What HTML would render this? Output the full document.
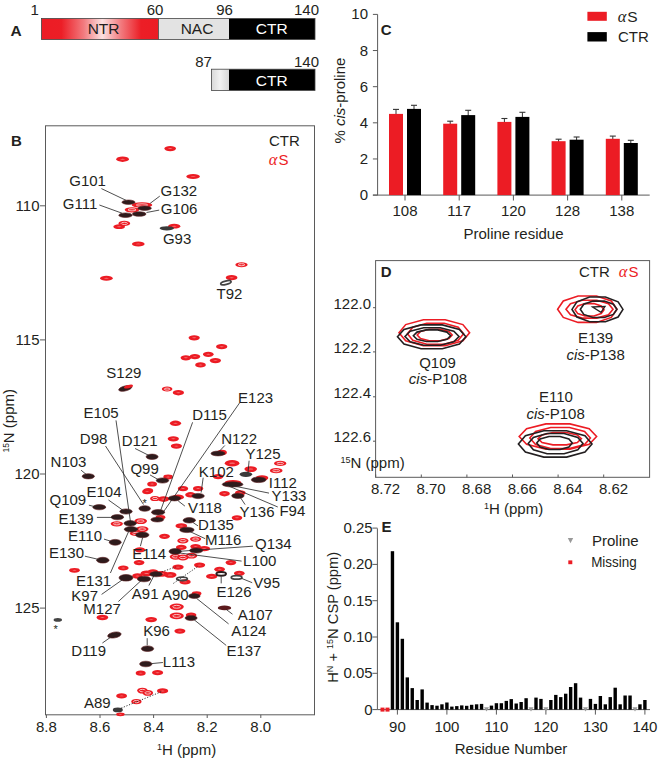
<!DOCTYPE html>
<html><head><meta charset="utf-8"><style>
html,body{margin:0;padding:0;background:#fff;}
svg{display:block;font-family:"Liberation Sans", sans-serif;}
text{stroke-width:0px;}
</style></head><body>
<svg width="658" height="761" viewBox="0 0 658 761">
<rect width="658" height="761" fill="#fff"/>
<defs><linearGradient id="ntr" x1="0" x2="1" y1="0" y2="0"><stop offset="0" stop-color="#ec1c24"/><stop offset="0.17" stop-color="#ec1e26"/><stop offset="0.36" stop-color="#f27a7e"/><stop offset="0.52" stop-color="#fbe0e0"/><stop offset="0.68" stop-color="#f27a7e"/><stop offset="0.85" stop-color="#ec1e26"/><stop offset="1" stop-color="#ec1c24"/></linearGradient><linearGradient id="nac2" x1="0" x2="1" y1="0" y2="0"><stop offset="0" stop-color="#d8d8d8"/><stop offset="0.5" stop-color="#f2f2f2"/><stop offset="1" stop-color="#d8d8d8"/></linearGradient></defs>
<text x="10.6" y="35.8" font-size="15.5" fill="#231f20" stroke="#231f20" font-weight="bold">A</text>
<rect x="41.5" y="18.5" width="117" height="21" fill="url(#ntr)"/>
<rect x="158.5" y="18.5" width="70.5" height="21" fill="#e3e3e3"/>
<rect x="229" y="18.5" width="86" height="21" fill="#000"/>
<rect x="41.5" y="18.5" width="273.5" height="21" fill="none" stroke="#444" stroke-width="0.8"/>
<line x1="158.5" y1="18.5" x2="158.5" y2="39.5" stroke="#444" stroke-width="0.8"/>
<text x="103.6" y="33.8" font-size="15.5" fill="#231f20" stroke="#231f20" text-anchor="middle">NTR</text>
<text x="197" y="34" font-size="15.5" fill="#231f20" stroke="#231f20" text-anchor="middle">NAC</text>
<text x="271.8" y="34" font-size="15.5" fill="#fff" stroke="#fff" text-anchor="middle">CTR</text>
<text x="34.7" y="14.9" font-size="15" fill="#231f20" stroke="#231f20" text-anchor="middle">1</text>
<text x="155" y="14.9" font-size="15" fill="#231f20" stroke="#231f20" text-anchor="middle">60</text>
<text x="224.6" y="14.5" font-size="15" fill="#231f20" stroke="#231f20" text-anchor="middle">96</text>
<text x="306.5" y="14.5" font-size="15" fill="#231f20" stroke="#231f20" text-anchor="middle">140</text>
<rect x="211.5" y="69.2" width="17.5" height="21.2" fill="url(#nac2)"/>
<rect x="229" y="69.2" width="86" height="21.2" fill="#000"/>
<rect x="211.5" y="69.2" width="103.5" height="21.2" fill="none" stroke="#444" stroke-width="0.8"/>
<text x="271.8" y="86" font-size="15.5" fill="#fff" stroke="#fff" text-anchor="middle">CTR</text>
<text x="203.6" y="67" font-size="15" fill="#231f20" stroke="#231f20" text-anchor="middle">87</text>
<text x="306.5" y="67" font-size="15" fill="#231f20" stroke="#231f20" text-anchor="middle">140</text>
<line x1="377.6" y1="14.4" x2="377.6" y2="195.1" stroke="#5a5a5a" stroke-width="1"/>
<line x1="372.9" y1="195.1" x2="649.7" y2="195.1" stroke="#5a5a5a" stroke-width="1"/>
<line x1="372.9" y1="195.1" x2="377.6" y2="195.1" stroke="#5a5a5a" stroke-width="1"/>
<text x="368" y="200.1" font-size="15" fill="#231f20" stroke="#231f20" text-anchor="end">0</text>
<line x1="372.9" y1="158.95999999999998" x2="377.6" y2="158.95999999999998" stroke="#5a5a5a" stroke-width="1"/>
<text x="368" y="163.95999999999998" font-size="15" fill="#231f20" stroke="#231f20" text-anchor="end">2</text>
<line x1="372.9" y1="122.82" x2="377.6" y2="122.82" stroke="#5a5a5a" stroke-width="1"/>
<text x="368" y="127.82" font-size="15" fill="#231f20" stroke="#231f20" text-anchor="end">4</text>
<line x1="372.9" y1="86.67999999999999" x2="377.6" y2="86.67999999999999" stroke="#5a5a5a" stroke-width="1"/>
<text x="368" y="91.67999999999999" font-size="15" fill="#231f20" stroke="#231f20" text-anchor="end">6</text>
<line x1="372.9" y1="50.53999999999999" x2="377.6" y2="50.53999999999999" stroke="#5a5a5a" stroke-width="1"/>
<text x="368" y="55.53999999999999" font-size="15" fill="#231f20" stroke="#231f20" text-anchor="end">8</text>
<line x1="372.9" y1="14.400000000000006" x2="377.6" y2="14.400000000000006" stroke="#5a5a5a" stroke-width="1"/>
<text x="368" y="19.400000000000006" font-size="15" fill="#231f20" stroke="#231f20" text-anchor="end">10</text>
<text x="380.8" y="35.3" font-size="15" fill="#231f20" stroke="#231f20" font-weight="bold">C</text>
<line x1="396.0" y1="109.4" x2="396.0" y2="114.9" stroke="#333" stroke-width="1"/>
<line x1="393.0" y1="109.4" x2="399.0" y2="109.4" stroke="#333" stroke-width="1.1"/>
<line x1="414.0" y1="105.3" x2="414.0" y2="109.9" stroke="#333" stroke-width="1"/>
<line x1="411.0" y1="105.3" x2="417.0" y2="105.3" stroke="#333" stroke-width="1.1"/>
<rect x="389.0" y="113.9" width="14" height="81.19999999999999" fill="#ec1c24"/>
<rect x="407.0" y="108.9" width="14" height="86.19999999999999" fill="#000"/>
<line x1="405.0" y1="195.1" x2="405.0" y2="200.5" stroke="#5a5a5a" stroke-width="1"/>
<text x="405.0" y="216" font-size="15" fill="#231f20" stroke="#231f20" text-anchor="middle">108</text>
<line x1="450.2" y1="121.2" x2="450.2" y2="124.7" stroke="#333" stroke-width="1"/>
<line x1="447.2" y1="121.2" x2="453.2" y2="121.2" stroke="#333" stroke-width="1.1"/>
<line x1="468.2" y1="110.3" x2="468.2" y2="116.1" stroke="#333" stroke-width="1"/>
<line x1="465.2" y1="110.3" x2="471.2" y2="110.3" stroke="#333" stroke-width="1.1"/>
<rect x="443.2" y="123.7" width="14" height="71.39999999999999" fill="#ec1c24"/>
<rect x="461.2" y="115.1" width="14" height="80.0" fill="#000"/>
<line x1="459.2" y1="195.1" x2="459.2" y2="200.5" stroke="#5a5a5a" stroke-width="1"/>
<text x="459.2" y="216" font-size="15" fill="#231f20" stroke="#231f20" text-anchor="middle">117</text>
<line x1="504.4" y1="118.5" x2="504.4" y2="122.9" stroke="#333" stroke-width="1"/>
<line x1="501.4" y1="118.5" x2="507.4" y2="118.5" stroke="#333" stroke-width="1.1"/>
<line x1="522.4" y1="112.3" x2="522.4" y2="117.9" stroke="#333" stroke-width="1"/>
<line x1="519.4" y1="112.3" x2="525.4" y2="112.3" stroke="#333" stroke-width="1.1"/>
<rect x="497.4" y="121.9" width="14" height="73.19999999999999" fill="#ec1c24"/>
<rect x="515.4" y="116.9" width="14" height="78.19999999999999" fill="#000"/>
<line x1="513.4" y1="195.1" x2="513.4" y2="200.5" stroke="#5a5a5a" stroke-width="1"/>
<text x="513.4" y="216" font-size="15" fill="#231f20" stroke="#231f20" text-anchor="middle">120</text>
<line x1="558.6" y1="139.2" x2="558.6" y2="142.2" stroke="#333" stroke-width="1"/>
<line x1="555.6" y1="139.2" x2="561.6" y2="139.2" stroke="#333" stroke-width="1.1"/>
<line x1="576.6" y1="137.0" x2="576.6" y2="140.7" stroke="#333" stroke-width="1"/>
<line x1="573.6" y1="137.0" x2="579.6" y2="137.0" stroke="#333" stroke-width="1.1"/>
<rect x="551.6" y="141.2" width="14" height="53.900000000000006" fill="#ec1c24"/>
<rect x="569.6" y="139.7" width="14" height="55.400000000000006" fill="#000"/>
<line x1="567.6" y1="195.1" x2="567.6" y2="200.5" stroke="#5a5a5a" stroke-width="1"/>
<text x="567.6" y="216" font-size="15" fill="#231f20" stroke="#231f20" text-anchor="middle">128</text>
<line x1="612.8" y1="136.1" x2="612.8" y2="139.8" stroke="#333" stroke-width="1"/>
<line x1="609.8" y1="136.1" x2="615.8" y2="136.1" stroke="#333" stroke-width="1.1"/>
<line x1="630.8" y1="140.3" x2="630.8" y2="144.0" stroke="#333" stroke-width="1"/>
<line x1="627.8" y1="140.3" x2="633.8" y2="140.3" stroke="#333" stroke-width="1.1"/>
<rect x="605.8" y="138.8" width="14" height="56.29999999999998" fill="#ec1c24"/>
<rect x="623.8" y="143.0" width="14" height="52.099999999999994" fill="#000"/>
<line x1="621.8" y1="195.1" x2="621.8" y2="200.5" stroke="#5a5a5a" stroke-width="1"/>
<text x="621.8" y="216" font-size="15" fill="#231f20" stroke="#231f20" text-anchor="middle">138</text>
<text x="513.5" y="239" font-size="15" fill="#231f20" stroke="#231f20" text-anchor="middle">Proline residue</text>
<text transform="translate(345.1,100.6) rotate(-90)" font-size="15" fill="#231f20" stroke="#231f20" text-anchor="middle">% <tspan font-style="italic">cis</tspan>-proline</text>
<rect x="587.4" y="11.8" width="19.4" height="9" fill="#ec1c24"/>
<rect x="587.4" y="32.1" width="19.4" height="9.4" fill="#000"/>
<text x="617.8" y="22" font-size="16.5" fill="#231f20" stroke="#231f20" style="font-family:'Liberation Serif',serif;font-style:italic">α</text>
<text x="627.2" y="22" font-size="15.5" fill="#231f20" stroke="#231f20">S</text>
<text x="618" y="41.7" font-size="15" fill="#231f20" stroke="#231f20">CTR</text>
<rect x="375.6" y="260.6" width="274" height="216.7" fill="none" stroke="#5a5a5a" stroke-width="1"/>
<text x="380.8" y="276.6" font-size="15" fill="#231f20" stroke="#231f20" font-weight="bold">D</text>
<text x="579" y="276.5" font-size="15" fill="#231f20" stroke="#231f20">CTR</text>
<text x="618.8" y="276.6" font-size="16.5" fill="#ec1c24" stroke="#ec1c24" style="font-family:'Liberation Serif',serif;font-style:italic">α</text>
<text x="628.5" y="276.6" font-size="15" fill="#ec1c24" stroke="#ec1c24">S</text>
<text x="371" y="308.7" font-size="15" fill="#231f20" stroke="#231f20" text-anchor="end">122.0</text>
<line x1="373" y1="307.7" x2="375.6" y2="307.7" stroke="#5a5a5a" stroke-width="1"/>
<text x="371" y="352.9" font-size="15" fill="#231f20" stroke="#231f20" text-anchor="end">122.2</text>
<line x1="373" y1="351.9" x2="375.6" y2="351.9" stroke="#5a5a5a" stroke-width="1"/>
<text x="371" y="397.8" font-size="15" fill="#231f20" stroke="#231f20" text-anchor="end">122.4</text>
<line x1="373" y1="396.8" x2="375.6" y2="396.8" stroke="#5a5a5a" stroke-width="1"/>
<text x="371" y="442.2" font-size="15" fill="#231f20" stroke="#231f20" text-anchor="end">122.6</text>
<line x1="373" y1="441.2" x2="375.6" y2="441.2" stroke="#5a5a5a" stroke-width="1"/>
<text x="340.5" y="468" font-size="15" fill="#231f20" stroke="#231f20"><tspan font-size="9" dy="-5">15</tspan><tspan dy="5">N (ppm)</tspan></text>
<line x1="375.7" y1="477.3" x2="375.7" y2="474.5" stroke="#5a5a5a" stroke-width="1"/>
<text x="385.5" y="493.5" font-size="15" fill="#231f20" stroke="#231f20" text-anchor="middle">8.72</text>
<line x1="421.3" y1="477.3" x2="421.3" y2="474.5" stroke="#5a5a5a" stroke-width="1"/>
<text x="431.1" y="493.5" font-size="15" fill="#231f20" stroke="#231f20" text-anchor="middle">8.70</text>
<line x1="466.9" y1="477.3" x2="466.9" y2="474.5" stroke="#5a5a5a" stroke-width="1"/>
<text x="476.7" y="493.5" font-size="15" fill="#231f20" stroke="#231f20" text-anchor="middle">8.68</text>
<line x1="512.5" y1="477.3" x2="512.5" y2="474.5" stroke="#5a5a5a" stroke-width="1"/>
<text x="522.3" y="493.5" font-size="15" fill="#231f20" stroke="#231f20" text-anchor="middle">8.66</text>
<line x1="558.1" y1="477.3" x2="558.1" y2="474.5" stroke="#5a5a5a" stroke-width="1"/>
<text x="567.9" y="493.5" font-size="15" fill="#231f20" stroke="#231f20" text-anchor="middle">8.64</text>
<line x1="603.7" y1="477.3" x2="603.7" y2="474.5" stroke="#5a5a5a" stroke-width="1"/>
<text x="613.5" y="493.5" font-size="15" fill="#231f20" stroke="#231f20" text-anchor="middle">8.62</text>
<text x="484" y="514" font-size="15" fill="#231f20" stroke="#231f20"><tspan font-size="9" dy="-5">1</tspan><tspan dy="5">H (ppm)</tspan></text>
<polygon points="469.6,332.7 462.9,340.8 445.2,345.7 423.4,345.7 405.7,340.8 399.0,332.7 405.7,324.6 423.4,319.7 445.2,319.7 462.9,324.6" fill="none" stroke="#ec1c24" stroke-width="1.6"/>
<polygon points="463.6,333.8 458.2,340.3 444.2,344.3 426.8,344.3 412.8,340.3 407.4,333.8 412.8,327.3 426.8,323.3 444.2,323.3 458.2,327.3" fill="none" stroke="#ec1c24" stroke-width="1.6"/>
<polygon points="452.2,335.0 448.9,338.6 440.1,340.8 429.3,340.8 420.5,338.6 417.2,335.0 420.5,331.4 429.3,329.2 440.1,329.2 448.9,331.4" fill="none" stroke="#ec1c24" stroke-width="1.6"/>
<polygon points="465.9,336.8 459.4,344.1 442.3,348.7 421.1,348.7 404.0,344.1 397.5,336.8 404.0,329.5 421.1,324.9 442.3,324.9 459.4,329.5" fill="none" stroke="#231f20" stroke-width="1.6"/>
<polygon points="459.0,336.5 453.8,341.8 440.3,345.2 423.7,345.2 410.2,341.8 405.0,336.5 410.2,331.2 423.7,327.8 440.3,327.8 453.8,331.2" fill="none" stroke="#231f20" stroke-width="1.6"/>
<polygon points="450.6,335.7 447.0,339.3 437.7,341.5 426.3,341.5 417.0,339.3 413.4,335.7 417.0,332.1 426.3,329.9 437.7,329.9 447.0,332.1" fill="none" stroke="#231f20" stroke-width="1.6"/>
<text x="437.5" y="367.6" font-size="15" fill="#231f20" stroke="#231f20" text-anchor="middle">Q109</text>
<text x="438" y="384" font-size="15" fill="#231f20" stroke="#231f20" text-anchor="middle"><tspan font-style="italic">cis</tspan>-P108</text>
<polygon points="617.0,309.2 611.3,317.4 596.5,322.4 578.1,322.4 563.3,317.4 557.6,309.2 563.3,301.0 578.1,296.0 596.5,296.0 611.3,301.0" fill="none" stroke="#ec1c24" stroke-width="1.6"/>
<polygon points="613.0,309.2 608.5,314.7 596.8,318.1 582.2,318.1 570.5,314.7 566.0,309.2 570.5,303.7 582.2,300.3 596.8,300.3 608.5,303.7" fill="none" stroke="#ec1c24" stroke-width="1.6"/>
<polygon points="604.0,309.8 601.2,313.6 594.0,316.0 585.0,316.0 577.8,313.6 575.0,309.8 577.8,306.0 585.0,303.6 594.0,303.6 601.2,306.0" fill="none" stroke="#ec1c24" stroke-width="1.6"/>
<polygon points="623.0,309.4 618.1,317.0 605.4,321.8 589.6,321.8 576.9,317.0 572.0,309.4 576.9,301.8 589.6,297.0 605.4,297.0 618.1,301.8" fill="none" stroke="#231f20" stroke-width="1.6"/>
<polygon points="616.9,309.3 613.4,314.4 604.3,317.5 592.9,317.5 583.8,314.4 580.3,309.3 583.8,304.2 592.9,301.1 604.3,301.1 613.4,304.2" fill="none" stroke="#231f20" stroke-width="1.6"/>
<polygon points="592.6,307 605,306.4 601,312.4" fill="none" stroke="#231f20" stroke-width="1.3"/>
<text x="595.6" y="342.8" font-size="15" fill="#231f20" stroke="#231f20" text-anchor="middle">E139</text>
<text x="595.6" y="359.5" font-size="15" fill="#231f20" stroke="#231f20" text-anchor="middle"><tspan font-style="italic">cis</tspan>-P138</text>
<polygon points="596.6,436.5 589.2,444.3 569.9,449.1 545.9,449.1 526.6,444.3 519.2,436.5 526.6,428.7 545.9,423.9 569.9,423.9 589.2,428.7" fill="none" stroke="#ec1c24" stroke-width="1.6"/>
<polygon points="590.4,438.0 584.6,444.5 569.5,448.5 550.7,448.5 535.6,444.5 529.8,438.0 535.6,431.5 550.7,427.5 569.5,427.5 584.6,431.5" fill="none" stroke="#ec1c24" stroke-width="1.6"/>
<polygon points="581.4,438.7 577.3,442.5 566.4,444.9 553.0,444.9 542.1,442.5 538.0,438.7 542.1,434.9 553.0,432.5 566.4,432.5 577.3,434.9" fill="none" stroke="#ec1c24" stroke-width="1.6"/>
<polygon points="592.0,443.9 585.0,452.1 566.6,457.1 543.8,457.1 525.4,452.1 518.4,443.9 525.4,435.7 543.8,430.7 566.6,430.7 585.0,435.7" fill="none" stroke="#231f20" stroke-width="1.6"/>
<polygon points="583.0,443.6 577.8,449.8 564.1,453.7 547.1,453.7 533.4,449.8 528.2,443.6 533.4,437.4 547.1,433.5 564.1,433.5 577.8,437.4" fill="none" stroke="#231f20" stroke-width="1.6"/>
<polygon points="572.3,443.0 568.9,447.0 560.0,449.5 549.0,449.5 540.1,447.0 536.7,443.0 540.1,439.0 549.0,436.5 560.0,436.5 568.9,439.0" fill="none" stroke="#231f20" stroke-width="1.6"/>
<text x="556" y="401.9" font-size="15" fill="#231f20" stroke="#231f20" text-anchor="middle">E110</text>
<text x="555.6" y="418.6" font-size="15" fill="#231f20" stroke="#231f20" text-anchor="middle"><tspan font-style="italic">cis</tspan>-P108</text>
<line x1="377.4" y1="528.4" x2="377.4" y2="709.6" stroke="#5a5a5a" stroke-width="1"/>
<line x1="377.4" y1="709.6" x2="650" y2="709.6" stroke="#5a5a5a" stroke-width="1"/>
<line x1="372.4" y1="709.6" x2="377.4" y2="709.6" stroke="#5a5a5a" stroke-width="1"/>
<text x="372.6" y="714.6" font-size="15" fill="#231f20" stroke="#231f20" text-anchor="end">0</text>
<line x1="372.4" y1="673.3000000000001" x2="377.4" y2="673.3000000000001" stroke="#5a5a5a" stroke-width="1"/>
<text x="372.6" y="678.3000000000001" font-size="15" fill="#231f20" stroke="#231f20" text-anchor="end">0.05</text>
<line x1="372.4" y1="637.0" x2="377.4" y2="637.0" stroke="#5a5a5a" stroke-width="1"/>
<text x="372.6" y="642.0" font-size="15" fill="#231f20" stroke="#231f20" text-anchor="end">0.10</text>
<line x1="372.4" y1="600.7" x2="377.4" y2="600.7" stroke="#5a5a5a" stroke-width="1"/>
<text x="372.6" y="605.7" font-size="15" fill="#231f20" stroke="#231f20" text-anchor="end">0.15</text>
<line x1="372.4" y1="564.4000000000001" x2="377.4" y2="564.4000000000001" stroke="#5a5a5a" stroke-width="1"/>
<text x="372.6" y="569.4000000000001" font-size="15" fill="#231f20" stroke="#231f20" text-anchor="end">0.20</text>
<line x1="372.4" y1="528.1" x2="377.4" y2="528.1" stroke="#5a5a5a" stroke-width="1"/>
<text x="372.6" y="533.1" font-size="15" fill="#231f20" stroke="#231f20" text-anchor="end">0.25</text>
<text x="381.4" y="531.8" font-size="15" fill="#231f20" stroke="#231f20" font-weight="bold">E</text>
<line x1="397.4" y1="709.6" x2="397.4" y2="714.6" stroke="#5a5a5a" stroke-width="1"/>
<text x="397.4" y="732" font-size="15" fill="#231f20" stroke="#231f20" text-anchor="middle">90</text>
<line x1="446.9" y1="709.6" x2="446.9" y2="714.6" stroke="#5a5a5a" stroke-width="1"/>
<text x="446.9" y="732" font-size="15" fill="#231f20" stroke="#231f20" text-anchor="middle">100</text>
<line x1="496.4" y1="709.6" x2="496.4" y2="714.6" stroke="#5a5a5a" stroke-width="1"/>
<text x="496.4" y="732" font-size="15" fill="#231f20" stroke="#231f20" text-anchor="middle">110</text>
<line x1="545.9" y1="709.6" x2="545.9" y2="714.6" stroke="#5a5a5a" stroke-width="1"/>
<text x="545.9" y="732" font-size="15" fill="#231f20" stroke="#231f20" text-anchor="middle">120</text>
<line x1="595.4" y1="709.6" x2="595.4" y2="714.6" stroke="#5a5a5a" stroke-width="1"/>
<text x="595.4" y="732" font-size="15" fill="#231f20" stroke="#231f20" text-anchor="middle">130</text>
<line x1="644.9" y1="709.6" x2="644.9" y2="714.6" stroke="#5a5a5a" stroke-width="1"/>
<text x="644.9" y="732" font-size="15" fill="#231f20" stroke="#231f20" text-anchor="middle">140</text>
<rect x="390.75" y="551.2" width="3.4" height="158.4" fill="#000"/>
<rect x="395.7" y="622.3" width="3.4" height="87.3" fill="#000"/>
<rect x="400.65" y="638.8" width="3.4" height="70.8" fill="#000"/>
<rect x="405.6" y="677.4" width="3.4" height="32.2" fill="#000"/>
<rect x="410.55" y="688.1" width="3.4" height="21.5" fill="#000"/>
<rect x="415.5" y="700" width="3.4" height="9.6" fill="#000"/>
<rect x="420.45" y="689.4" width="3.4" height="20.2" fill="#000"/>
<rect x="425.4" y="702.6" width="3.4" height="7.0" fill="#000"/>
<rect x="430.35" y="705.1" width="3.4" height="4.5" fill="#000"/>
<rect x="435.3" y="705.7" width="3.4" height="3.9" fill="#000"/>
<rect x="440.25" y="704.3" width="3.4" height="5.3" fill="#000"/>
<rect x="445.2" y="702.5" width="3.4" height="7.1" fill="#000"/>
<rect x="450.15" y="706.6" width="3.4" height="3.0" fill="#000"/>
<rect x="455.1" y="706.1" width="3.4" height="3.5" fill="#000"/>
<rect x="460.05" y="705.4" width="3.4" height="4.2" fill="#000"/>
<rect x="465.0" y="705.8" width="3.4" height="3.8" fill="#000"/>
<rect x="469.95" y="704.8" width="3.4" height="4.8" fill="#000"/>
<rect x="474.9" y="704.3" width="3.4" height="5.3" fill="#000"/>
<rect x="479.85" y="703.9" width="3.4" height="5.7" fill="#000"/>
<rect x="489.75" y="705.6" width="3.4" height="4.0" fill="#000"/>
<rect x="494.7" y="703.2" width="3.4" height="6.4" fill="#000"/>
<rect x="499.65" y="703.2" width="3.4" height="6.4" fill="#000"/>
<rect x="504.6" y="700.9" width="3.4" height="8.7" fill="#000"/>
<rect x="509.55" y="699.1" width="3.4" height="10.5" fill="#000"/>
<rect x="514.5" y="703.5" width="3.4" height="6.1" fill="#000"/>
<rect x="519.45" y="702" width="3.4" height="7.6" fill="#000"/>
<rect x="524.4" y="698.2" width="3.4" height="11.4" fill="#000"/>
<rect x="534.3" y="697.6" width="3.4" height="12.0" fill="#000"/>
<rect x="539.25" y="698.9" width="3.4" height="10.7" fill="#000"/>
<rect x="549.15" y="700" width="3.4" height="9.6" fill="#000"/>
<rect x="554.1" y="694.9" width="3.4" height="14.7" fill="#000"/>
<rect x="559.05" y="697.1" width="3.4" height="12.5" fill="#000"/>
<rect x="564.0" y="693.7" width="3.4" height="15.9" fill="#000"/>
<rect x="568.95" y="687" width="3.4" height="22.6" fill="#000"/>
<rect x="573.9" y="683.2" width="3.4" height="26.4" fill="#000"/>
<rect x="578.85" y="697.6" width="3.4" height="12.0" fill="#000"/>
<rect x="588.75" y="698.9" width="3.4" height="10.7" fill="#000"/>
<rect x="593.7" y="703.9" width="3.4" height="5.7" fill="#000"/>
<rect x="598.65" y="696" width="3.4" height="13.6" fill="#000"/>
<rect x="603.6" y="704.3" width="3.4" height="5.3" fill="#000"/>
<rect x="608.55" y="697.1" width="3.4" height="12.5" fill="#000"/>
<rect x="613.5" y="687.7" width="3.4" height="21.9" fill="#000"/>
<rect x="618.45" y="704.3" width="3.4" height="5.3" fill="#000"/>
<rect x="623.4" y="695.5" width="3.4" height="14.1" fill="#000"/>
<rect x="628.35" y="695.5" width="3.4" height="14.1" fill="#000"/>
<rect x="638.25" y="704.3" width="3.4" height="5.3" fill="#000"/>
<rect x="643.2" y="700" width="3.4" height="9.6" fill="#000"/>
<polygon points="484.0,707.3 489.0,707.3 486.5,711.5" fill="#999"/>
<polygon points="528.5,707.3 533.5,707.3 531.0,711.5" fill="#999"/>
<polygon points="543.4,707.3 548.4,707.3 545.9,711.5" fill="#999"/>
<polygon points="583.0,707.3 588.0,707.3 585.5,711.5" fill="#999"/>
<polygon points="632.5,707.3 637.5,707.3 635.0,711.5" fill="#999"/>
<rect x="380.5" y="707.6" width="4" height="4" fill="#ec1c24"/>
<rect x="385.5" y="707.6" width="4" height="4" fill="#ec1c24"/>
<polygon points="567.8,538 573.2,538 570.5,543.3" fill="#999"/>
<rect x="568.3" y="560.4" width="4" height="3.8" fill="#ec1c24"/>
<text x="592" y="545.6" font-size="15" fill="#231f20" stroke="#231f20">Proline</text>
<text x="591.2" y="566.6" font-size="15" fill="#231f20" stroke="#231f20" textLength="45.5" lengthAdjust="spacingAndGlyphs">Missing</text>
<text x="511" y="754.4" font-size="15" fill="#231f20" stroke="#231f20" text-anchor="middle">Residue Number</text>
<text transform="translate(338.2,617.3) rotate(-90)" font-size="14.7" fill="#231f20" stroke="#231f20" text-anchor="middle">H<tspan font-size="9" dy="-5">N</tspan><tspan dy="5"> + </tspan><tspan font-size="9" dy="-5">15</tspan><tspan dy="5">N CSP (ppm)</tspan></text>
<rect x="45.5" y="125.8" width="269" height="589" fill="none" stroke="#5a5a5a" stroke-width="1"/>
<text x="11" y="145.6" font-size="15" fill="#231f20" stroke="#231f20" font-weight="bold">B</text>
<text x="269" y="145.6" font-size="15" fill="#231f20" stroke="#231f20">CTR</text>
<text x="268.8" y="164.6" font-size="16.5" fill="#ec1c24" stroke="#ec1c24" style="font-family:'Liberation Serif',serif;font-style:italic">α</text>
<text x="278.5" y="164.6" font-size="15" fill="#ec1c24" stroke="#ec1c24">S</text>
<line x1="40" y1="205.8" x2="45.5" y2="205.8" stroke="#5a5a5a" stroke-width="1"/>
<text x="39.5" y="210.8" font-size="15" fill="#231f20" stroke="#231f20" text-anchor="end">110</text>
<line x1="40" y1="339.9" x2="45.5" y2="339.9" stroke="#5a5a5a" stroke-width="1"/>
<text x="39.5" y="344.9" font-size="15" fill="#231f20" stroke="#231f20" text-anchor="end">115</text>
<line x1="40" y1="474.0" x2="45.5" y2="474.0" stroke="#5a5a5a" stroke-width="1"/>
<text x="39.5" y="479.0" font-size="15" fill="#231f20" stroke="#231f20" text-anchor="end">120</text>
<line x1="40" y1="608.1" x2="45.5" y2="608.1" stroke="#5a5a5a" stroke-width="1"/>
<text x="39.5" y="613.1" font-size="15" fill="#231f20" stroke="#231f20" text-anchor="end">125</text>
<line x1="46.4" y1="714.8" x2="46.4" y2="718" stroke="#5a5a5a" stroke-width="1"/>
<text x="46.4" y="732" font-size="15" fill="#231f20" stroke="#231f20" text-anchor="middle">8.8</text>
<line x1="100.0" y1="714.8" x2="100.0" y2="718" stroke="#5a5a5a" stroke-width="1"/>
<text x="100.0" y="732" font-size="15" fill="#231f20" stroke="#231f20" text-anchor="middle">8.6</text>
<line x1="153.6" y1="714.8" x2="153.6" y2="718" stroke="#5a5a5a" stroke-width="1"/>
<text x="153.6" y="732" font-size="15" fill="#231f20" stroke="#231f20" text-anchor="middle">8.4</text>
<line x1="207.20000000000002" y1="714.8" x2="207.20000000000002" y2="718" stroke="#5a5a5a" stroke-width="1"/>
<text x="207.20000000000002" y="732" font-size="15" fill="#231f20" stroke="#231f20" text-anchor="middle">8.2</text>
<line x1="260.8" y1="714.8" x2="260.8" y2="718" stroke="#5a5a5a" stroke-width="1"/>
<text x="260.8" y="732" font-size="15" fill="#231f20" stroke="#231f20" text-anchor="middle">8.0</text>
<text x="157" y="755" font-size="15" fill="#231f20" stroke="#231f20"><tspan font-size="9" dy="-5">1</tspan><tspan dy="5">H (ppm)</tspan></text>
<text transform="translate(14.4,452.6) rotate(-90)" font-size="15" fill="#231f20" stroke="#231f20"><tspan font-size="8.5" dy="-5">15</tspan><tspan dy="5">N (ppm)</tspan></text>
<g>
<ellipse cx="170.2" cy="148.6" rx="5.8" ry="2.6999999999999997" fill="#ec1c24"/>
<ellipse cx="170.2" cy="148.6" rx="2.32" ry="0.49" fill="#f47c7c"/>
<ellipse cx="122.6" cy="159.2" rx="6.3" ry="2.6999999999999997" fill="#ec1c24"/>
<ellipse cx="122.6" cy="159.2" rx="2.52" ry="0.49" fill="#f47c7c"/>
<ellipse cx="193.1" cy="176.4" rx="6.7" ry="2.5" fill="#ec1c24"/>
<ellipse cx="193.1" cy="176.4" rx="2.68" ry="0.45" fill="#f47c7c"/>
<ellipse cx="142" cy="205" rx="10.3" ry="2.8" fill="#ec1c24"/>
<ellipse cx="142" cy="205" rx="5.67" ry="1.18" fill="none" stroke="#fbd0d0" stroke-width="0.9"/>
<ellipse cx="132" cy="209.8" rx="7.3" ry="2.6" fill="#ec1c24"/>
<ellipse cx="132" cy="209.8" rx="4.02" ry="1.09" fill="none" stroke="#fbd0d0" stroke-width="0.9"/>
<ellipse cx="124.3" cy="223.4" rx="5.8" ry="2.6999999999999997" fill="#ec1c24"/>
<ellipse cx="124.3" cy="223.4" rx="3.19" ry="1.13" fill="none" stroke="#fbd0d0" stroke-width="0.9"/>
<ellipse cx="119.2" cy="226.7" rx="5.8" ry="2.4" fill="#ec1c24"/>
<ellipse cx="119.2" cy="226.7" rx="2.32" ry="0.43" fill="#f47c7c"/>
<ellipse cx="174.2" cy="226.2" rx="6.1" ry="2.4" fill="#ec1c24"/>
<ellipse cx="174.2" cy="226.2" rx="2.44" ry="0.43" fill="#f47c7c"/>
<ellipse cx="138.3" cy="243.9" rx="6.3" ry="2.5" fill="#ec1c24"/>
<ellipse cx="138.3" cy="243.9" rx="2.52" ry="0.45" fill="#f47c7c"/>
<ellipse cx="106.4" cy="278.3" rx="6.3" ry="2.5" fill="#ec1c24"/>
<ellipse cx="106.4" cy="278.3" rx="2.52" ry="0.45" fill="#f47c7c"/>
<ellipse cx="241.5" cy="264.7" rx="6.1" ry="2.5" fill="#ec1c24"/>
<ellipse cx="241.5" cy="264.7" rx="3.35" ry="1.05" fill="none" stroke="#fbd0d0" stroke-width="0.9"/>
<ellipse cx="231.6" cy="277.7" rx="5.8" ry="2.6" fill="#ec1c24"/>
<ellipse cx="231.6" cy="277.7" rx="2.32" ry="0.47" fill="#f47c7c"/>
<ellipse cx="194.2" cy="337.8" rx="5.6" ry="2.6" fill="#ec1c24"/>
<ellipse cx="194.2" cy="337.8" rx="2.24" ry="0.47" fill="#f47c7c"/>
<ellipse cx="221.7" cy="346.7" rx="5.6" ry="2.6" fill="#ec1c24"/>
<ellipse cx="221.7" cy="346.7" rx="2.24" ry="0.47" fill="#f47c7c"/>
<ellipse cx="208.3" cy="354.3" rx="5.3" ry="2.6" fill="#ec1c24"/>
<ellipse cx="208.3" cy="354.3" rx="2.12" ry="0.47" fill="#f47c7c"/>
<ellipse cx="185.9" cy="357.8" rx="5.3" ry="2.6" fill="#ec1c24"/>
<ellipse cx="185.9" cy="357.8" rx="2.12" ry="0.47" fill="#f47c7c"/>
<ellipse cx="194.9" cy="356.6" rx="5.3" ry="2.6" fill="#ec1c24"/>
<ellipse cx="194.9" cy="356.6" rx="2.12" ry="0.47" fill="#f47c7c"/>
<ellipse cx="215.4" cy="360.6" rx="5.6" ry="2.6" fill="#ec1c24"/>
<ellipse cx="215.4" cy="360.6" rx="2.24" ry="0.47" fill="#f47c7c"/>
<ellipse cx="200.5" cy="364.9" rx="5.3" ry="2.6999999999999997" fill="#ec1c24"/>
<ellipse cx="200.5" cy="364.9" rx="2.12" ry="0.49" fill="#f47c7c"/>
<ellipse cx="167.1" cy="389.1" rx="5.3" ry="2.5" fill="#ec1c24"/>
<ellipse cx="167.1" cy="389.1" rx="2.92" ry="1.05" fill="none" stroke="#fbd0d0" stroke-width="0.9"/>
<ellipse cx="178.4" cy="392.7" rx="5.6" ry="2.6999999999999997" fill="#ec1c24"/>
<ellipse cx="178.4" cy="392.7" rx="2.24" ry="0.49" fill="#f47c7c"/>
<ellipse cx="175.5" cy="423.3" rx="5.6" ry="2.6999999999999997" fill="#ec1c24"/>
<ellipse cx="175.5" cy="423.3" rx="2.24" ry="0.49" fill="#f47c7c"/>
<ellipse cx="173.3" cy="438.8" rx="5.6" ry="2.6" fill="#ec1c24"/>
<ellipse cx="173.3" cy="438.8" rx="2.24" ry="0.47" fill="#f47c7c"/>
<ellipse cx="176.4" cy="446.1" rx="5.6" ry="2.6" fill="#ec1c24"/>
<ellipse cx="176.4" cy="446.1" rx="2.24" ry="0.47" fill="#f47c7c"/>
<ellipse cx="222" cy="452.4" rx="4.8" ry="2.6" fill="#ec1c24"/>
<ellipse cx="222" cy="452.4" rx="1.92" ry="0.47" fill="#f47c7c"/>
<ellipse cx="232.1" cy="463.2" rx="7.3" ry="3.1999999999999997" fill="#ec1c24"/>
<ellipse cx="232.1" cy="463.2" rx="2.92" ry="0.58" fill="#f47c7c"/>
<ellipse cx="280.2" cy="463.4" rx="6.1" ry="2.6" fill="#ec1c24"/>
<ellipse cx="280.2" cy="463.4" rx="3.35" ry="1.09" fill="none" stroke="#fbd0d0" stroke-width="0.9"/>
<ellipse cx="276.2" cy="470.7" rx="6.3" ry="2.6" fill="#ec1c24"/>
<ellipse cx="276.2" cy="470.7" rx="3.47" ry="1.09" fill="none" stroke="#fbd0d0" stroke-width="0.9"/>
<ellipse cx="250.7" cy="469.1" rx="6.3" ry="2.9" fill="#ec1c24"/>
<ellipse cx="250.7" cy="469.1" rx="2.52" ry="0.52" fill="#f47c7c"/>
<ellipse cx="218.1" cy="476.6" rx="5.3" ry="2.6999999999999997" fill="#ec1c24"/>
<ellipse cx="218.1" cy="476.6" rx="2.12" ry="0.49" fill="#f47c7c"/>
<ellipse cx="168.1" cy="477" rx="4.8" ry="2.4" fill="#ec1c24"/>
<ellipse cx="168.1" cy="477" rx="1.92" ry="0.43" fill="#f47c7c"/>
<ellipse cx="152.1" cy="484" rx="4.8999999999999995" ry="2.6" fill="#ec1c24"/>
<ellipse cx="152.1" cy="484" rx="1.96" ry="0.47" fill="#f47c7c"/>
<ellipse cx="148.3" cy="490.7" rx="4.8999999999999995" ry="2.6" fill="#ec1c24"/>
<ellipse cx="148.3" cy="490.7" rx="1.96" ry="0.47" fill="#f47c7c"/>
<ellipse cx="183" cy="488.6" rx="5.1" ry="2.6999999999999997" fill="#ec1c24"/>
<ellipse cx="183" cy="488.6" rx="2.04" ry="0.49" fill="#f47c7c"/>
<ellipse cx="198.1" cy="488.6" rx="5.1" ry="2.6999999999999997" fill="#ec1c24"/>
<ellipse cx="198.1" cy="488.6" rx="2.04" ry="0.49" fill="#f47c7c"/>
<ellipse cx="190.5" cy="494.8" rx="5.3" ry="2.6999999999999997" fill="#ec1c24"/>
<ellipse cx="190.5" cy="494.8" rx="2.12" ry="0.49" fill="#f47c7c"/>
<ellipse cx="224.5" cy="493.7" rx="5.3" ry="2.6999999999999997" fill="#ec1c24"/>
<ellipse cx="224.5" cy="493.7" rx="2.12" ry="0.49" fill="#f47c7c"/>
<ellipse cx="240.3" cy="492.9" rx="5.3" ry="2.6999999999999997" fill="#ec1c24"/>
<ellipse cx="240.3" cy="492.9" rx="2.12" ry="0.49" fill="#f47c7c"/>
<ellipse cx="163.6" cy="499.1" rx="5.8" ry="2.8" fill="#ec1c24"/>
<ellipse cx="163.6" cy="499.1" rx="2.32" ry="0.50" fill="#f47c7c"/>
<ellipse cx="155" cy="498.5" rx="4.8" ry="2.6" fill="#ec1c24"/>
<ellipse cx="155" cy="498.5" rx="2.64" ry="1.09" fill="none" stroke="#fbd0d0" stroke-width="0.9"/>
<ellipse cx="262" cy="478" rx="6.3" ry="2.6999999999999997" fill="#ec1c24"/>
<ellipse cx="262" cy="478" rx="2.52" ry="0.49" fill="#f47c7c"/>
<ellipse cx="233" cy="482.5" rx="8.3" ry="2.4" fill="#ec1c24"/>
<ellipse cx="233" cy="482.5" rx="3.32" ry="0.43" fill="#f47c7c"/>
<ellipse cx="147.1" cy="491.6" rx="4.8999999999999995" ry="2.6" fill="#ec1c24"/>
<ellipse cx="147.1" cy="491.6" rx="1.96" ry="0.47" fill="#f47c7c"/>
<ellipse cx="116.8" cy="523.8" rx="6.1" ry="2.6" fill="#ec1c24"/>
<ellipse cx="116.8" cy="523.8" rx="3.35" ry="1.09" fill="none" stroke="#fbd0d0" stroke-width="0.9"/>
<ellipse cx="140.7" cy="521.1" rx="6.3" ry="2.9" fill="#ec1c24"/>
<ellipse cx="140.7" cy="521.1" rx="3.47" ry="1.22" fill="none" stroke="#fbd0d0" stroke-width="0.9"/>
<ellipse cx="142.2" cy="529.1" rx="6.3" ry="2.9" fill="#ec1c24"/>
<ellipse cx="142.2" cy="529.1" rx="3.47" ry="1.22" fill="none" stroke="#fbd0d0" stroke-width="0.9"/>
<ellipse cx="136.2" cy="533.4" rx="6.3" ry="2.6999999999999997" fill="#ec1c24"/>
<ellipse cx="136.2" cy="533.4" rx="3.47" ry="1.13" fill="none" stroke="#fbd0d0" stroke-width="0.9"/>
<ellipse cx="178.1" cy="497.2" rx="5.8" ry="2.6999999999999997" fill="#ec1c24"/>
<ellipse cx="178.1" cy="497.2" rx="2.32" ry="0.49" fill="#f47c7c"/>
<ellipse cx="181.3" cy="525.9" rx="5.8" ry="2.6999999999999997" fill="#ec1c24"/>
<ellipse cx="181.3" cy="525.9" rx="2.32" ry="0.49" fill="#f47c7c"/>
<ellipse cx="164.5" cy="536.3" rx="5.3" ry="2.6" fill="#ec1c24"/>
<ellipse cx="164.5" cy="536.3" rx="2.12" ry="0.47" fill="#f47c7c"/>
<ellipse cx="182.9" cy="540.7" rx="5.6" ry="2.8" fill="#ec1c24"/>
<ellipse cx="182.9" cy="540.7" rx="3.08" ry="1.18" fill="none" stroke="#fbd0d0" stroke-width="0.9"/>
<ellipse cx="195.6" cy="539.1" rx="5.6" ry="2.6999999999999997" fill="#ec1c24"/>
<ellipse cx="195.6" cy="539.1" rx="3.08" ry="1.13" fill="none" stroke="#fbd0d0" stroke-width="0.9"/>
<ellipse cx="181.3" cy="547.4" rx="5.3" ry="2.6" fill="#ec1c24"/>
<ellipse cx="181.3" cy="547.4" rx="2.12" ry="0.47" fill="#f47c7c"/>
<ellipse cx="195.6" cy="546.6" rx="5.3" ry="2.6" fill="#ec1c24"/>
<ellipse cx="195.6" cy="546.6" rx="2.12" ry="0.47" fill="#f47c7c"/>
<ellipse cx="204.3" cy="548.7" rx="5.8" ry="2.6" fill="#ec1c24"/>
<ellipse cx="204.3" cy="548.7" rx="2.32" ry="0.47" fill="#f47c7c"/>
<ellipse cx="237" cy="517.8" rx="5.3" ry="2.6" fill="#ec1c24"/>
<ellipse cx="237" cy="517.8" rx="2.12" ry="0.47" fill="#f47c7c"/>
<ellipse cx="160.5" cy="517.2" rx="4.8" ry="2.2" fill="#ec1c24"/>
<ellipse cx="160.5" cy="517.2" rx="1.92" ry="0.40" fill="#f47c7c"/>
<ellipse cx="139.8" cy="549.8" rx="5.3" ry="2.6" fill="#ec1c24"/>
<ellipse cx="139.8" cy="549.8" rx="2.12" ry="0.47" fill="#f47c7c"/>
<ellipse cx="139.1" cy="562.6" rx="5.3" ry="2.6" fill="#ec1c24"/>
<ellipse cx="139.1" cy="562.6" rx="2.12" ry="0.47" fill="#f47c7c"/>
<ellipse cx="175.5" cy="556.8" rx="5.8" ry="2.9" fill="#ec1c24"/>
<ellipse cx="175.5" cy="556.8" rx="3.19" ry="1.22" fill="none" stroke="#fbd0d0" stroke-width="0.9"/>
<ellipse cx="182.9" cy="557.5" rx="5.8" ry="2.9" fill="#ec1c24"/>
<ellipse cx="182.9" cy="557.5" rx="3.19" ry="1.22" fill="none" stroke="#fbd0d0" stroke-width="0.9"/>
<ellipse cx="191.5" cy="555.7" rx="5.8" ry="2.9" fill="#ec1c24"/>
<ellipse cx="191.5" cy="555.7" rx="3.19" ry="1.22" fill="none" stroke="#fbd0d0" stroke-width="0.9"/>
<ellipse cx="199.6" cy="565.1" rx="5.6" ry="2.6" fill="#ec1c24"/>
<ellipse cx="199.6" cy="565.1" rx="2.24" ry="0.47" fill="#f47c7c"/>
<ellipse cx="178.1" cy="567.1" rx="5.6" ry="2.6" fill="#ec1c24"/>
<ellipse cx="178.1" cy="567.1" rx="2.24" ry="0.47" fill="#f47c7c"/>
<ellipse cx="230.9" cy="562.6" rx="5.3" ry="2.6" fill="#ec1c24"/>
<ellipse cx="230.9" cy="562.6" rx="2.12" ry="0.47" fill="#f47c7c"/>
<ellipse cx="219.6" cy="569.3" rx="5.3" ry="2.6" fill="#ec1c24"/>
<ellipse cx="219.6" cy="569.3" rx="2.12" ry="0.47" fill="#f47c7c"/>
<ellipse cx="211.7" cy="576.4" rx="5.6" ry="2.6" fill="#ec1c24"/>
<ellipse cx="211.7" cy="576.4" rx="2.24" ry="0.47" fill="#f47c7c"/>
<ellipse cx="123.3" cy="568" rx="5.3" ry="2.5" fill="#ec1c24"/>
<ellipse cx="123.3" cy="568" rx="2.12" ry="0.45" fill="#f47c7c"/>
<ellipse cx="74.5" cy="570.3" rx="5.3" ry="2.4" fill="#ec1c24"/>
<ellipse cx="74.5" cy="570.3" rx="2.12" ry="0.43" fill="#f47c7c"/>
<ellipse cx="146.8" cy="573.4" rx="6.3" ry="2.9" fill="#ec1c24"/>
<ellipse cx="146.8" cy="573.4" rx="2.52" ry="0.52" fill="#f47c7c"/>
<ellipse cx="137.5" cy="576" rx="5.3" ry="2.6999999999999997" fill="#ec1c24"/>
<ellipse cx="137.5" cy="576" rx="2.12" ry="0.49" fill="#f47c7c"/>
<ellipse cx="153" cy="572" rx="5.3" ry="2.6999999999999997" fill="#ec1c24"/>
<ellipse cx="153" cy="572" rx="2.12" ry="0.49" fill="#f47c7c"/>
<ellipse cx="161.7" cy="573.8" rx="6.3" ry="2.9" fill="#ec1c24"/>
<ellipse cx="161.7" cy="573.8" rx="2.52" ry="0.52" fill="#f47c7c"/>
<ellipse cx="170.2" cy="574.9" rx="6.3" ry="2.9" fill="#ec1c24"/>
<ellipse cx="170.2" cy="574.9" rx="2.52" ry="0.52" fill="#f47c7c"/>
<ellipse cx="185.1" cy="581.9" rx="5.6" ry="2.6" fill="#ec1c24"/>
<ellipse cx="185.1" cy="581.9" rx="2.24" ry="0.47" fill="#f47c7c"/>
<ellipse cx="239.3" cy="573.3" rx="5.3" ry="2.6" fill="#ec1c24"/>
<ellipse cx="239.3" cy="573.3" rx="2.12" ry="0.47" fill="#f47c7c"/>
<ellipse cx="196.6" cy="593.6" rx="4.8" ry="2.4" fill="#ec1c24"/>
<ellipse cx="196.6" cy="593.6" rx="1.92" ry="0.43" fill="#f47c7c"/>
<ellipse cx="176.7" cy="606.8" rx="7.1" ry="3.4" fill="#ec1c24"/>
<ellipse cx="176.7" cy="606.8" rx="3.91" ry="1.43" fill="none" stroke="#fbd0d0" stroke-width="0.9"/>
<ellipse cx="176.7" cy="615.9" rx="7.1" ry="3.4" fill="#ec1c24"/>
<ellipse cx="176.7" cy="615.9" rx="3.91" ry="1.43" fill="none" stroke="#fbd0d0" stroke-width="0.9"/>
<ellipse cx="191.1" cy="615.1" rx="5.3" ry="2.6" fill="#ec1c24"/>
<ellipse cx="191.1" cy="615.1" rx="2.12" ry="0.47" fill="#f47c7c"/>
<ellipse cx="151.2" cy="619.6" rx="5.8" ry="2.6" fill="#ec1c24"/>
<ellipse cx="151.2" cy="619.6" rx="2.32" ry="0.47" fill="#f47c7c"/>
<ellipse cx="179.9" cy="631.1" rx="5.5" ry="2.6" fill="#ec1c24"/>
<ellipse cx="179.9" cy="631.1" rx="2.20" ry="0.47" fill="#f47c7c"/>
<ellipse cx="102.4" cy="617.5" rx="5.8" ry="2.6999999999999997" fill="#ec1c24"/>
<ellipse cx="102.4" cy="617.5" rx="2.32" ry="0.49" fill="#f47c7c"/>
<ellipse cx="140.7" cy="673.1" rx="5.0" ry="2.6" fill="#ec1c24"/>
<ellipse cx="140.7" cy="673.1" rx="2.00" ry="0.47" fill="#f47c7c"/>
<ellipse cx="157.6" cy="672.7" rx="5.5" ry="2.6" fill="#ec1c24"/>
<ellipse cx="157.6" cy="672.7" rx="2.20" ry="0.47" fill="#f47c7c"/>
<ellipse cx="142.4" cy="690.6" rx="5.3" ry="2.9" fill="#ec1c24"/>
<ellipse cx="142.4" cy="690.6" rx="2.92" ry="1.22" fill="none" stroke="#fbd0d0" stroke-width="0.9"/>
<ellipse cx="147.8" cy="692.9" rx="5.3" ry="2.9" fill="#ec1c24"/>
<ellipse cx="147.8" cy="692.9" rx="2.92" ry="1.22" fill="none" stroke="#fbd0d0" stroke-width="0.9"/>
<ellipse cx="162.6" cy="690.9" rx="5.6" ry="2.6999999999999997" fill="#ec1c24"/>
<ellipse cx="162.6" cy="690.9" rx="2.24" ry="0.49" fill="#f47c7c"/>
<ellipse cx="121.6" cy="695.9" rx="5.3999999999999995" ry="2.6" fill="#ec1c24"/>
<ellipse cx="121.6" cy="695.9" rx="2.16" ry="0.47" fill="#f47c7c"/>
<ellipse cx="136.4" cy="701.6" rx="5.1" ry="2.6999999999999997" fill="#ec1c24"/>
<ellipse cx="136.4" cy="701.6" rx="2.81" ry="1.13" fill="none" stroke="#fbd0d0" stroke-width="0.9"/>
<ellipse cx="120.4" cy="714.3" rx="4.3" ry="1.9" fill="#ec1c24"/>
<ellipse cx="120.4" cy="714.3" rx="1.72" ry="0.34" fill="#f47c7c"/>
</g>
<g>
<ellipse cx="128.5" cy="202.2" rx="6.6000000000000005" ry="2.2" fill="#2e1b1c" stroke="#5a1c1e" stroke-width="0.6"/>
<ellipse cx="144.6" cy="208.2" rx="6.8" ry="2.2" fill="#2e1b1c" stroke="#5a1c1e" stroke-width="0.6"/>
<ellipse cx="125.5" cy="215.2" rx="6.6000000000000005" ry="2.3000000000000003" fill="#2e1b1c" stroke="#5a1c1e" stroke-width="0.6"/>
<ellipse cx="139.2" cy="214" rx="6.8" ry="2.3000000000000003" fill="#2e1b1c" stroke="#5a1c1e" stroke-width="0.6"/>
<ellipse cx="166.8" cy="228.3" rx="7.2" ry="2.1" fill="#3a3a3a"/>
<ellipse cx="225.9" cy="282.7" rx="5.30" ry="1.70" fill="none" stroke="#444" stroke-width="1.8" transform="rotate(-14 225.9 282.7)"/>
<ellipse cx="125.3" cy="388.4" rx="6.8" ry="2.5" fill="#2e1b1c" stroke="#5a1c1e" stroke-width="0.6" transform="rotate(-14 125.3 388.4)"/>
<ellipse cx="88.3" cy="476.3" rx="6.1000000000000005" ry="2.6" fill="#2e1b1c" stroke="#5a1c1e" stroke-width="0.6"/>
<ellipse cx="152.1" cy="456.8" rx="6.0" ry="2.7" fill="#2e1b1c" stroke="#5a1c1e" stroke-width="0.6"/>
<ellipse cx="218" cy="453.5" rx="7.0" ry="2.4" fill="#2e1b1c" stroke="#5a1c1e" stroke-width="0.6"/>
<ellipse cx="162.5" cy="480.5" rx="6.2" ry="2.6" fill="#2e1b1c" stroke="#5a1c1e" stroke-width="0.6"/>
<ellipse cx="245.9" cy="474.3" rx="6.2" ry="2.6" fill="#3a3a3a"/>
<ellipse cx="258.7" cy="479.8" rx="7.4" ry="2.8000000000000003" fill="#2e1b1c" stroke="#5a1c1e" stroke-width="0.6"/>
<ellipse cx="232.6" cy="484.4" rx="10.399999999999999" ry="2.6" fill="#2e1b1c" stroke="#5a1c1e" stroke-width="0.6"/>
<ellipse cx="237.9" cy="495.8" rx="6.2" ry="2.6" fill="#2e1b1c" stroke="#5a1c1e" stroke-width="0.6"/>
<ellipse cx="174.5" cy="498.3" rx="6.2" ry="2.6" fill="#2e1b1c" stroke="#5a1c1e" stroke-width="0.6"/>
<ellipse cx="198.1" cy="496" rx="6.2" ry="2.6" fill="#2e1b1c" stroke="#5a1c1e" stroke-width="0.6"/>
<ellipse cx="99.3" cy="507.2" rx="6.4" ry="2.6" fill="#2e1b1c" stroke="#5a1c1e" stroke-width="0.6"/>
<ellipse cx="126" cy="511.5" rx="6.2" ry="2.6" fill="#2e1b1c" stroke="#5a1c1e" stroke-width="0.6"/>
<ellipse cx="117.4" cy="517.2" rx="6.2" ry="2.6" fill="#2e1b1c" stroke="#5a1c1e" stroke-width="0.6"/>
<ellipse cx="144.7" cy="508.5" rx="5.8" ry="2.8000000000000003" fill="#2e1b1c" stroke="#5a1c1e" stroke-width="0.6"/>
<ellipse cx="158.1" cy="512.3" rx="6.6000000000000005" ry="2.8000000000000003" fill="#2e1b1c" stroke="#5a1c1e" stroke-width="0.6"/>
<ellipse cx="157.3" cy="519.6" rx="6.4" ry="2.4" fill="#2e1b1c" stroke="#5a1c1e" stroke-width="0.6"/>
<ellipse cx="130.2" cy="523.3" rx="6.2" ry="2.7" fill="#2e1b1c" stroke="#5a1c1e" stroke-width="0.6"/>
<ellipse cx="131" cy="529.3" rx="6.7" ry="2.7" fill="#2e1b1c" stroke="#5a1c1e" stroke-width="0.6"/>
<ellipse cx="142.3" cy="534.9" rx="6.7" ry="2.8000000000000003" fill="#2e1b1c" stroke="#5a1c1e" stroke-width="0.6"/>
<ellipse cx="115.2" cy="542.3" rx="6.0" ry="2.9" fill="#2e1b1c" stroke="#5a1c1e" stroke-width="0.6"/>
<ellipse cx="102.8" cy="560.2" rx="6.2" ry="2.9" fill="#2e1b1c" stroke="#5a1c1e" stroke-width="0.6"/>
<ellipse cx="189.3" cy="520.3" rx="6.2" ry="2.7" fill="#2e1b1c" stroke="#5a1c1e" stroke-width="0.6"/>
<ellipse cx="186.9" cy="529.9" rx="7.2" ry="2.7" fill="#2e1b1c" stroke="#5a1c1e" stroke-width="0.6"/>
<ellipse cx="175.2" cy="551.4" rx="6.2" ry="2.9" fill="#2e1b1c" stroke="#5a1c1e" stroke-width="0.6"/>
<ellipse cx="196.2" cy="550.5" rx="6.6000000000000005" ry="2.6" fill="#2e1b1c" stroke="#5a1c1e" stroke-width="0.6"/>
<ellipse cx="126" cy="577.8" rx="7.0" ry="3.3000000000000003" fill="#2e1b1c" stroke="#5a1c1e" stroke-width="0.6"/>
<ellipse cx="144" cy="579" rx="6.7" ry="2.8000000000000003" fill="#2e1b1c" stroke="#5a1c1e" stroke-width="0.6"/>
<ellipse cx="156" cy="574.2" rx="6.2" ry="2.6" fill="#2e1b1c" stroke="#5a1c1e" stroke-width="0.6"/>
<ellipse cx="182" cy="578.8" rx="5.30" ry="1.70" fill="none" stroke="#444" stroke-width="1.8"/>
<ellipse cx="221.2" cy="573.8" rx="4.80" ry="1.90" fill="#fff" stroke="#2a1c1c" stroke-width="2"/>
<ellipse cx="236.6" cy="577.4" rx="5.30" ry="1.70" fill="none" stroke="#444" stroke-width="1.8"/>
<ellipse cx="194.3" cy="596" rx="5.8" ry="2.4" fill="#2e1b1c" stroke="#5a1c1e" stroke-width="0.6"/>
<ellipse cx="224.5" cy="607.9" rx="6.7" ry="2.4" fill="#5c1a1c"/>
<ellipse cx="191.1" cy="618" rx="6.0" ry="2.6" fill="#2e1b1c" stroke="#5a1c1e" stroke-width="0.6"/>
<ellipse cx="114.4" cy="635" rx="6.8" ry="2.9" fill="#2e1b1c" stroke="#5a1c1e" stroke-width="0.6" transform="rotate(-10 114.4 635)"/>
<ellipse cx="147.5" cy="648.7" rx="6.2" ry="2.8000000000000003" fill="#2e1b1c" stroke="#5a1c1e" stroke-width="0.6"/>
<ellipse cx="145.8" cy="664" rx="6.2" ry="2.8000000000000003" fill="#2e1b1c" stroke="#5a1c1e" stroke-width="0.6"/>
<ellipse cx="117.8" cy="709.9" rx="5.0" ry="2.4" fill="#3a3a3a"/>
<ellipse cx="57.8" cy="619.9" rx="3.30" ry="0.90" fill="none" stroke="#444" stroke-width="1.8"/>
</g>
<ellipse cx="128.5" cy="386.6" rx="4.6" ry="1.6" fill="#ec1c24" transform="rotate(-14 128.5 386.6)"/>
<line x1="101.4" y1="188.6" x2="126" y2="200.3" stroke="#222" stroke-width="0.8"/>
<line x1="99.4" y1="205" x2="122" y2="213.2" stroke="#222" stroke-width="0.8"/>
<line x1="150.1" y1="203.4" x2="159.8" y2="196.1" stroke="#222" stroke-width="0.8"/>
<line x1="146.5" y1="212.5" x2="159.2" y2="210.1" stroke="#222" stroke-width="0.8"/>
<line x1="116" y1="420.4" x2="130.5" y2="522" stroke="#222" stroke-width="0.8"/>
<line x1="105.5" y1="446" x2="143.5" y2="504.5" stroke="#222" stroke-width="0.8"/>
<line x1="192.6" y1="422.3" x2="160.6" y2="510.6" stroke="#222" stroke-width="0.8"/>
<line x1="239.5" y1="403" x2="162.8" y2="512.8" stroke="#222" stroke-width="0.8"/>
<line x1="135.1" y1="448.5" x2="150" y2="456" stroke="#222" stroke-width="0.8"/>
<line x1="150" y1="474.9" x2="159.6" y2="480.4" stroke="#222" stroke-width="0.8"/>
<line x1="224.8" y1="445.5" x2="219.1" y2="451.5" stroke="#222" stroke-width="0.8"/>
<line x1="203.2" y1="477.7" x2="201.1" y2="492.6" stroke="#222" stroke-width="0.8"/>
<line x1="184.9" y1="506.1" x2="178.2" y2="500.9" stroke="#222" stroke-width="0.8"/>
<line x1="108.5" y1="500" x2="123.4" y2="510.6" stroke="#222" stroke-width="0.8"/>
<line x1="81.1" y1="470.2" x2="86" y2="474.3" stroke="#222" stroke-width="0.8"/>
<line x1="249.1" y1="460.7" x2="248" y2="472.7" stroke="#222" stroke-width="0.8"/>
<line x1="226.8" y1="484.6" x2="269" y2="493.1" stroke="#222" stroke-width="0.8"/>
<line x1="229.1" y1="486.2" x2="277.8" y2="507" stroke="#222" stroke-width="0.8"/>
<line x1="240.3" y1="497.4" x2="245.1" y2="504.6" stroke="#222" stroke-width="0.8"/>
<line x1="88.9" y1="505.2" x2="95.3" y2="506.8" stroke="#222" stroke-width="0.8"/>
<line x1="96.9" y1="517.4" x2="113.6" y2="517.4" stroke="#222" stroke-width="0.8"/>
<line x1="104" y1="539.1" x2="110.4" y2="541.1" stroke="#222" stroke-width="0.8"/>
<line x1="84.9" y1="556.2" x2="98.5" y2="559.4" stroke="#222" stroke-width="0.8"/>
<line x1="110.4" y1="573" x2="128.7" y2="531.3" stroke="#222" stroke-width="0.8"/>
<line x1="140.4" y1="546.2" x2="142.6" y2="537.7" stroke="#222" stroke-width="0.8"/>
<line x1="198" y1="525.9" x2="193.2" y2="522.7" stroke="#222" stroke-width="0.8"/>
<line x1="205.2" y1="538.7" x2="189.4" y2="531.3" stroke="#222" stroke-width="0.8"/>
<line x1="176.6" y1="551.5" x2="253" y2="546.2" stroke="#222" stroke-width="0.8"/>
<line x1="176.6" y1="552.6" x2="241.6" y2="561.1" stroke="#222" stroke-width="0.8"/>
<line x1="252.2" y1="582.7" x2="241.6" y2="578.4" stroke="#222" stroke-width="0.8"/>
<line x1="221.2" y1="576.5" x2="221.2" y2="583.4" stroke="#222" stroke-width="0.8"/>
<line x1="101.6" y1="594.4" x2="122.3" y2="579.8" stroke="#222" stroke-width="0.8"/>
<line x1="118.4" y1="601.5" x2="141.5" y2="580.2" stroke="#222" stroke-width="0.8"/>
<line x1="148.9" y1="585.5" x2="154.3" y2="574.9" stroke="#222" stroke-width="0.8"/>
<line x1="196.6" y1="598.4" x2="228.6" y2="623.9" stroke="#222" stroke-width="0.8"/>
<line x1="194.3" y1="619.9" x2="226.2" y2="645.4" stroke="#222" stroke-width="0.8"/>
<line x1="226.4" y1="609.6" x2="232.5" y2="614.2" stroke="#222" stroke-width="0.8"/>
<line x1="147.2" y1="638.2" x2="147.2" y2="645.4" stroke="#222" stroke-width="0.8"/>
<line x1="151.6" y1="663.6" x2="162.9" y2="662.5" stroke="#222" stroke-width="0.8"/>
<line x1="102.4" y1="643" x2="110.4" y2="637.4" stroke="#222" stroke-width="0.8"/>
<line x1="156.4" y1="573.8" x2="175.5" y2="567" stroke="#222" stroke-width="0.9" stroke-dasharray="1.2,1.6"/>
<line x1="173.4" y1="583.4" x2="197.9" y2="566.4" stroke="#222" stroke-width="0.9" stroke-dasharray="1.2,1.6"/>
<line x1="121.2" y1="708.1" x2="161.4" y2="691.7" stroke="#222" stroke-width="0.9" stroke-dasharray="1.2,1.6"/>
<text x="69.25" y="185.9" font-size="15" fill="#231f20" stroke="#231f20">G101</text>
<text x="62.75" y="209.1" font-size="15" fill="#231f20" stroke="#231f20">G111</text>
<text x="160.5" y="195.8" font-size="15" fill="#231f20" stroke="#231f20">G132</text>
<text x="160.75" y="214.3" font-size="15" fill="#231f20" stroke="#231f20">G106</text>
<text x="162.9" y="244.1" font-size="15" fill="#231f20" stroke="#231f20">G93</text>
<text x="216.52" y="299" font-size="15" fill="#231f20" stroke="#231f20">T92</text>
<text x="106.32" y="378.3" font-size="15" fill="#231f20" stroke="#231f20">S129</text>
<text x="83.6" y="418.3" font-size="15" fill="#231f20" stroke="#231f20">E105</text>
<text x="238.1" y="403.3" font-size="15" fill="#231f20" stroke="#231f20">E123</text>
<text x="192.2" y="420.2" font-size="15" fill="#231f20" stroke="#231f20">D115</text>
<text x="79.8" y="444.1" font-size="15" fill="#231f20" stroke="#231f20">D98</text>
<text x="121.7" y="445.5" font-size="15" fill="#231f20" stroke="#231f20">D121</text>
<text x="221.2" y="444" font-size="15" fill="#231f20" stroke="#231f20">N122</text>
<text x="245.52" y="459.1" font-size="15" fill="#231f20" stroke="#231f20">Y125</text>
<text x="50.6" y="467.4" font-size="15" fill="#231f20" stroke="#231f20">N103</text>
<text x="130.42" y="473.8" font-size="15" fill="#231f20" stroke="#231f20">Q99</text>
<text x="198.8" y="476.5" font-size="15" fill="#231f20" stroke="#231f20">K102</text>
<text x="268.85" y="487.8" font-size="15" fill="#231f20" stroke="#231f20">I112</text>
<text x="86.5" y="497.3" font-size="15" fill="#231f20" stroke="#231f20">E104</text>
<text x="271.42" y="501.4" font-size="15" fill="#231f20" stroke="#231f20">Y133</text>
<text x="49.52" y="505.2" font-size="15" fill="#231f20" stroke="#231f20">Q109</text>
<text x="188.02" y="513.1" font-size="15" fill="#231f20" stroke="#231f20">V118</text>
<text x="239.52" y="516.5" font-size="15" fill="#231f20" stroke="#231f20">Y136</text>
<text x="279.4" y="515.7" font-size="15" fill="#231f20" stroke="#231f20">F94</text>
<text x="58.6" y="523.5" font-size="15" fill="#231f20" stroke="#231f20">E139</text>
<text x="198.0" y="530" font-size="15" fill="#231f20" stroke="#231f20">D135</text>
<text x="68.1" y="541.4" font-size="15" fill="#231f20" stroke="#231f20">E110</text>
<text x="205.0" y="544.7" font-size="15" fill="#231f20" stroke="#231f20">M116</text>
<text x="255.02" y="548.5" font-size="15" fill="#231f20" stroke="#231f20">Q134</text>
<text x="132.2" y="558.5" font-size="15" fill="#231f20" stroke="#231f20">E114</text>
<text x="49.0" y="558.3" font-size="15" fill="#231f20" stroke="#231f20">E130</text>
<text x="243.1" y="566" font-size="15" fill="#231f20" stroke="#231f20">L100</text>
<text x="76.1" y="585.7" font-size="15" fill="#231f20" stroke="#231f20">E131</text>
<text x="253.32" y="588" font-size="15" fill="#231f20" stroke="#231f20">V95</text>
<text x="131.83" y="598.5" font-size="15" fill="#231f20" stroke="#231f20">A91</text>
<text x="161.93" y="600" font-size="15" fill="#231f20" stroke="#231f20">A90</text>
<text x="216.5" y="596.6" font-size="15" fill="#231f20" stroke="#231f20">E126</text>
<text x="71.3" y="600.7" font-size="15" fill="#231f20" stroke="#231f20">K97</text>
<text x="83.3" y="613.5" font-size="15" fill="#231f20" stroke="#231f20">M127</text>
<text x="237.82" y="619.8" font-size="15" fill="#231f20" stroke="#231f20">A107</text>
<text x="231.32" y="635.9" font-size="15" fill="#231f20" stroke="#231f20">A124</text>
<text x="143.2" y="635.8" font-size="15" fill="#231f20" stroke="#231f20">K96</text>
<text x="71.3" y="655.8" font-size="15" fill="#231f20" stroke="#231f20">D119</text>
<text x="226.4" y="656" font-size="15" fill="#231f20" stroke="#231f20">E137</text>
<text x="162.8" y="667" font-size="15" fill="#231f20" stroke="#231f20">L113</text>
<text x="83.9" y="708.4" font-size="15" fill="#231f20" stroke="#231f20">A89</text>
<text x="142.5" y="507" font-size="11" fill="#231f20" stroke="#231f20">*</text>
<text x="53.5" y="633" font-size="11" fill="#231f20" stroke="#231f20">*</text>
</svg></body></html>
